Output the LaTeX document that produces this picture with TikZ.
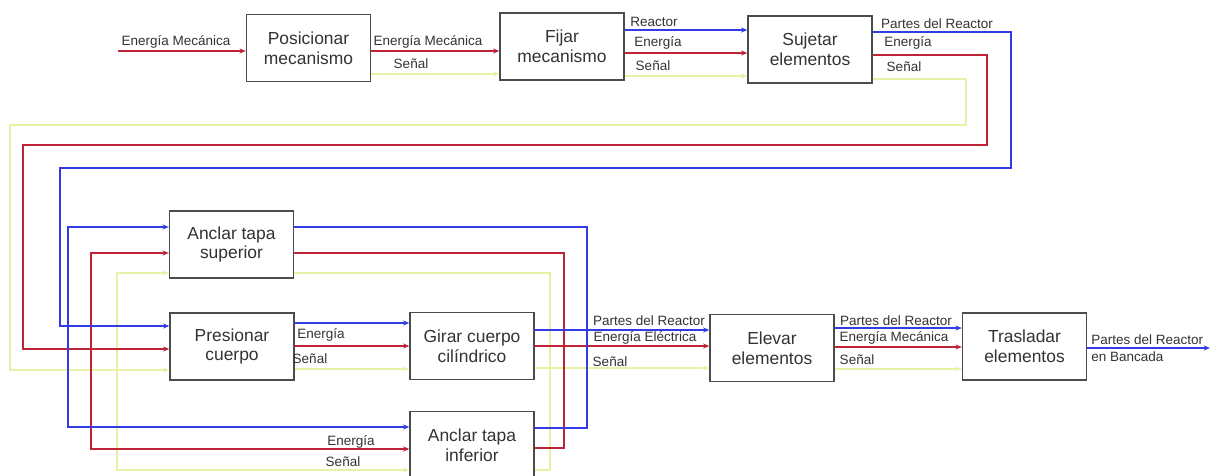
\documentclass[tikz,border=0pt]{standalone}
\usepackage{fontspec}
\setmainfont{Liberation Sans}
\usetikzlibrary{arrows.meta}
\definecolor{matblue}{RGB}{50,60,230}
\definecolor{enered}{RGB}{190,35,55}
\definecolor{sigyel}{RGB}{234,240,165}
\begin{document}
\begin{tikzpicture}[
    x=0.025cm, y=-0.025cm,
    proc/.style={rectangle, draw=black!70, line width=0.9pt, fill=white, text=black!80,
      minimum width=3.1cm, minimum height=1.68cm, align=center, inner sep=1pt,
      font=\fontsize{12.4}{14.2}\selectfont},
    lbl/.style={text=black!80, inner sep=0pt, font=\fontsize{9.6}{12}\selectfont},
    mat/.style={draw=matblue, line width=2.05pt},
    ene/.style={draw=enered, line width=0.8pt},
    sig/.style={draw=sigyel, line width=0.9pt},
    >={Stealth[length=4.5pt, width=3.6pt]}
  ]
  \useasboundingbox (0,0) rectangle (1211,475);
  \node[proc] (pos) at (308.5,48) {Posicionar\\mecanismo};
  \node[proc] (fij) at (562,46.5) {Fijar\\mecanismo};
  \node[proc] (suj) at (810,49.5) {Sujetar\\elementos};
  \node[proc] (sup) at (231.5,244.5) {Anclar tapa\\superior};
  \node[proc] (pre) at (232,346.5) {Presionar\\cuerpo};
  \node[proc] (gir) at (472,346) {Girar cuerpo\\cilíndrico};
  \node[proc] (inf) at (472,445) {Anclar tapa\\inferior};
  \node[proc] (ele) at (772,348) {Elevar\\elementos};
  \node[proc] (tra) at (1024.5,346.5) {Trasladar\\elementos};
  \coordinate (in) at (118,51);
  \coordinate (out) at (1210,348);
  \coordinate (bj) at (68,326);
  \coordinate (rj) at (91,349);
  \coordinate (yj) at (117,370);
  \coordinate (bk) at (587,330);
  \coordinate (rk) at (564,346);
  \coordinate (yk) at (550,368);
  % senal
  \draw[sig,->] (pos.east |- 0,74) -- (fij.west |- 0,74);
  \draw[sig,->] (fij.east |- 0,76) -- (suj.west |- 0,76);
  \draw[sig,->] (suj.east |- 0,79) -| (966,125) -| (10,370) -- (pre.west |- 0,370);
  \draw[sig,->] (yj) |- (sup.west |- 0,273);
  \draw[sig,->] (yj) |- (inf.west |- 0,470);
  \draw[sig,->] (pre.east |- 0,369) -- (gir.west |- 0,369);
  \draw[sig] (sup.east |- 0,273) -| (yk);
  \draw[sig] (inf.east |- 0,470) -| (yk);
  \draw[sig,->] (gir.east |- 0,368) -- (ele.west |- 0,368);
  \draw[sig,->] (ele.east |- 0,369) -- (tra.west |- 0,369);
  % energia
  \draw[ene,->] (in) -- (pos.west |- in);
  \draw[ene,->] (pos.east |- 0,51) -- (fij.west |- 0,51);
  \draw[ene,->] (fij.east |- 0,53) -- (suj.west |- 0,53);
  \draw[ene,->] (suj.east |- 0,55) -| (987,145) -| (23,349) -- (pre.west |- 0,349);
  \draw[ene,->] (rj) |- (sup.west |- 0,253);
  \draw[ene,->] (rj) |- (inf.west |- 0,449);
  \draw[ene,->] (pre.east |- 0,346) -- (gir.west |- 0,346);
  \draw[ene] (sup.east |- 0,253) -| (rk);
  \draw[ene] (inf.east |- 0,448) -| (rk);
  \draw[ene,->] (gir.east |- 0,346) -- (ele.west |- 0,346);
  \draw[ene,->] (ele.east |- 0,347) -- (tra.west |- 0,347);
  % partes del reactor
  \draw[mat,->] (fij.east |- 0,30) -- (suj.west |- 0,30);
  \draw[mat,->] (suj.east |- 0,32) -| (1011,168) -| (60,326) -- (pre.west |- 0,326);
  \draw[mat,->] (bj) |- (sup.west |- 0,227);
  \draw[mat,->] (bj) |- (inf.west |- 0,427);
  \draw[mat,->] (pre.east |- 0,323) -- (gir.west |- 0,323);
  \draw[mat] (sup.east |- 0,227) -| (bk);
  \draw[mat] (inf.east |- 0,428) -| (bk);
  \draw[mat,->] (gir.east |- 0,330) -- (ele.west |- 0,330);
  \draw[mat,->] (ele.east |- 0,328) -- (tra.west |- 0,328);
  \draw[mat,->] (tra.east |- out) -- (out);
  % etiquetas
  \node[lbl] (l1) at (176,42) {Energía Mecánica};
  \node[lbl] (l2) at (428,42) {Energía Mecánica};
  \node[lbl] (l3) at (411,64) {Señal};
  \node[lbl] (l4) at (654,22) {Reactor};
  \node[lbl] (l5) at (658,43) {Energía};
  \node[lbl] (l6) at (653,66) {Señal};
  \node[lbl] (l7) at (937,24) {Partes del Reactor};
  \node[lbl] (l8) at (908,43) {Energía};
  \node[lbl] (l9) at (904,67) {Señal};
  \node[lbl] (l10) at (321,335) {Energía};
  \node[lbl] (l11) at (310,359) {Señal};
  \node[lbl] (l12) at (351,442) {Energía};
  \node[lbl] (l13) at (343,462) {Señal};
  \node[lbl] (l14) at (649,321) {Partes del Reactor};
  \node[lbl] (l15) at (645,338) {Energía Eléctrica};
  \node[lbl] (l16) at (610,362) {Señal};
  \node[lbl] (l17) at (896,321) {Partes del Reactor};
  \node[lbl] (l18) at (894,338) {Energía Mecánica};
  \node[lbl] (l19) at (857,360) {Señal};
  \node[lbl, align=left, anchor=west] (l20) at (1091,348.5) {Partes del Reactor\\en Bancada};
\end{tikzpicture}
\end{document}
